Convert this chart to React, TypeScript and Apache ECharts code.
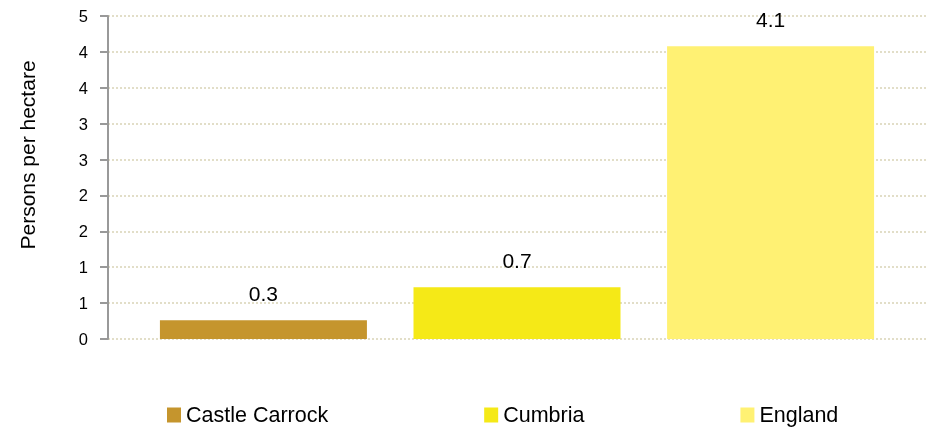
import React, { useEffect, useRef } from "react";
import * as echarts from "echarts";

const seriesNames = ["Castle Carrock", "Cumbria", "England"];
const seriesValues = [0.26, 0.72, 4.08];
const seriesColors = ["#c5952d", "#f5e917", "#fff173"];
const categories = [""];
const yTitle = "Persons per hectare";

export default function App() {
  const ref = useRef<HTMLDivElement>(null);
  useEffect(() => {
    document.body.style.margin = "0";
    const chart = echarts.init(ref.current!, null, { renderer: "svg" });
    const font = "'Liberation Sans', Arial, sans-serif";
    chart.setOption({
      animation: false,
      grid: { left: 108, right: 0, top: 16, bottom: 90, containLabel: false },
      legend: {
        left: 167,
        top: 404,
        padding: 0,
        itemWidth: 14,
        itemHeight: 15,
        itemGap: 156,
        icon: "rect",
        data: seriesNames,
        textStyle: { fontSize: 21.5, lineHeight: 22, color: "#000", fontFamily: font },
      },
      xAxis: {
        type: "category",
        data: categories,
        axisLine: { show: false },
        axisTick: { show: false },
        axisLabel: { show: false },
      },
      yAxis: {
        type: "value",
        min: 0,
        max: 4.5,
        interval: 0.5,
        axisLine: { show: true, lineStyle: { color: "#999", width: 2 } },
        axisTick: { show: true, length: 8, lineStyle: { color: "#999", width: 2 } },
        axisLabel: {
          margin: 20,
          fontSize: 16.5,
          color: "#000",
          fontFamily: font,
          formatter: (v: number) => String(Math.round(v + 1e-9)),
        },
        splitLine: {
          show: true,
          lineStyle: { color: "#d9d3b6", type: [2, 2], width: 1.5 },
        },
      },
      graphic: [
        {
          type: "text",
          x: 27,
          y: 155,
          rotation: Math.PI / 2,
          style: {
            text: yTitle,
            fontSize: 21,
            fontFamily: font,
            fill: "#000",
            textAlign: "center",
            textVerticalAlign: "middle",
          },
        },
      ],
      series: seriesNames.map((name, i) => ({
        name,
        type: "bar",
        data: [seriesValues[i]],
        barWidth: 207,
        barGap: "22.5%",
        itemStyle: { color: seriesColors[i] },
        label: {
          show: true,
          position: "top",
          distance: 16,
          fontSize: 21,
          color: "#000",
          fontFamily: font,
          formatter: (p: any) => Number(p.value).toFixed(1),
        },
      })),
    });
    return () => chart.dispose();
  }, []);
  return (
    <div
      ref={ref}
      style={{ position: "fixed", left: 0, top: 0, width: 926, height: 429 }}
    />
  );
}
